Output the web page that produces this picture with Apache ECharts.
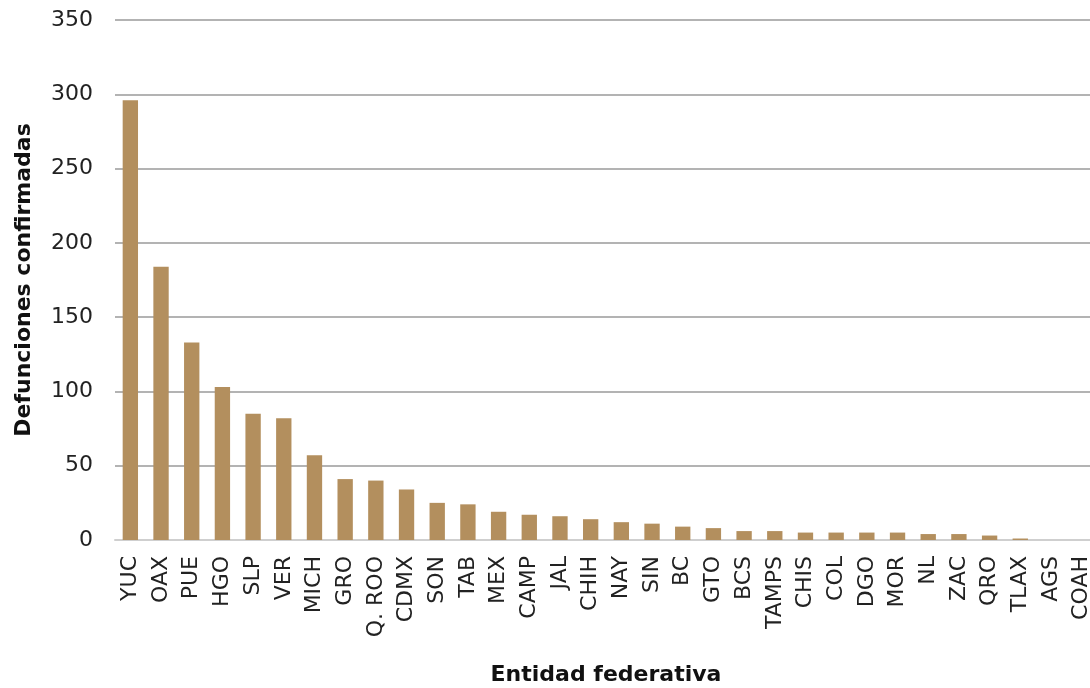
<!DOCTYPE html>
<html><head><meta charset="utf-8">
<script src="https://cdn.jsdelivr.net/npm/echarts@6/dist/echarts.min.js"></script>
<style>html,body{margin:0;padding:0;background:#fff;}#c{width:1090px;height:688px;}</style>
</head><body><div id="c"></div>
<script>
const categories = ["YUC","OAX","PUE","HGO","SLP","VER","MICH","GRO","Q. ROO","CDMX","SON","TAB","MEX","CAMP","JAL","CHIH","NAY","SIN","BC","GTO","BCS","TAMPS","CHIS","COL","DGO","MOR","NL","ZAC","QRO","TLAX","AGS","COAH"];
const deaths = [296,184,133,103,85,82,57,41,40,34,25,24,19,17,16,14,12,11,9,8,6,6,5,5,5,5,4,4,3,1,0,0];
const yTicks = {min:0, max:350, interval:50};
const yTitle = "Defunciones confirmadas";
const xTitle = "Entidad federativa";
const FONT = "DejaVu Sans";
const chart = echarts.init(document.getElementById('c'));
chart.setOption({
  animation:false,
  grid:{left:115, top:20, width:982, bottom:148, containLabel:false, outerBoundsMode:'none'},
  xAxis:{type:'category', data:categories,
    axisLine:{lineStyle:{color:'#cfcfcf', width:2}}, axisTick:{show:false},
    axisLabel:{rotate:90, fontFamily:FONT, fontSize:22, color:'#222', margin:16, interval:0},
    name:xTitle, nameLocation:'middle', nameGap:124,
    nameTextStyle:{fontFamily:FONT, fontSize:22, fontWeight:'bold', color:'#111'}},
  yAxis:{type:'value', min:yTicks.min, max:yTicks.max, interval:yTicks.interval,
    axisLine:{show:false}, axisTick:{show:false},
    splitLine:{lineStyle:{color:'#9a9a9a', width:1.5}},
    axisLabel:{fontFamily:FONT, fontSize:22, color:'#222', margin:22},
    name:yTitle, nameLocation:'middle', nameGap:80,
    nameTextStyle:{fontFamily:FONT, fontSize:22, fontWeight:'bold', color:'#111'}},
  series:[{type:'bar', data:deaths, barCategoryGap:'50%',
    itemStyle:{color:'#b38f5e'}}]
});
</script></body></html>
